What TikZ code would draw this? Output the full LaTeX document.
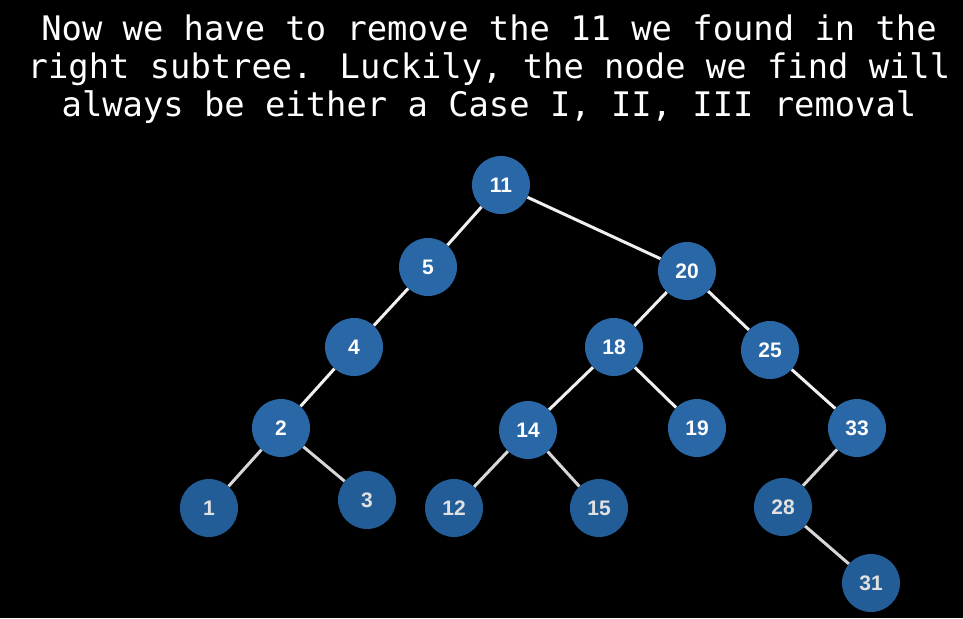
\documentclass[tikz,border=0pt]{standalone}
\usepackage{fontspec}
\setmainfont{Liberation Sans}
\newfontfamily\titlefont{DejaVu Sans Mono}
\begin{document}
\begin{tikzpicture}[x=1pt,y=-1pt,
  bnode/.style={circle,fill={rgb,255:red,41;green,103;blue,166},minimum size=58pt,inner sep=0pt,text=white,font=\bfseries\fontsize{21}{21}\selectfont},
  fnode/.style={bnode,fill={rgb,255:red,34;green,93;blue,152},text={rgb,255:red,225;green,225;blue,225}},
  edge/.style={draw={rgb,255:red,240;green,240;blue,240},line width=3pt},
  fedge/.style={draw={rgb,255:red,215;green,215;blue,215},line width=3pt}]
\fill[black] (0,0) rectangle (963,618);
\useasboundingbox (0,0) rectangle (963,618);
\node[text=white,align=center,font=\titlefont\fontsize{33.8}{38}\selectfont] (title) at (489,69)
  {Now we have to remove the 11 we found in the\\right subtree. Luckily, the node we find will\\always be either a Case I, II, III removal};
\node[bnode] (n11) at (501,185) {11};
\node[bnode] (n5) at (428,267) {5};
\node[bnode] (n20) at (687,271) {20};
\node[bnode] (n4) at (354,347) {4};
\node[bnode] (n18) at (614,347) {18};
\node[bnode] (n25) at (770,350) {25};
\node[bnode] (n2) at (281,428) {2};
\node[bnode] (n14) at (528,430) {14};
\node[bnode] (n19) at (697,428) {19};
\node[bnode] (n33) at (857,428) {33};
\node[fnode] (n1) at (209,508) {1};
\node[fnode] (n3) at (367,500) {3};
\node[fnode] (n12) at (454,508) {12};
\node[fnode] (n15) at (599,508) {15};
\node[fnode] (n28) at (783,507) {28};
\node[fnode] (n31) at (871,583) {31};
\path[edge] (n11) -- (n5);
\path[edge] (n11) -- (n20);
\path[edge] (n5) -- (n4);
\path[edge] (n4) -- (n2);
\path[fedge] (n2) -- (n1);
\path[fedge] (n2) -- (n3);
\path[edge] (n20) -- (n18);
\path[edge] (n20) -- (n25);
\path[edge] (n18) -- (n14);
\path[edge] (n18) -- (n19);
\path[fedge] (n14) -- (n12);
\path[fedge] (n14) -- (n15);
\path[edge] (n25) -- (n33);
\path[fedge] (n33) -- (n28);
\path[fedge] (n28) -- (n31);
\end{tikzpicture}
\end{document}
